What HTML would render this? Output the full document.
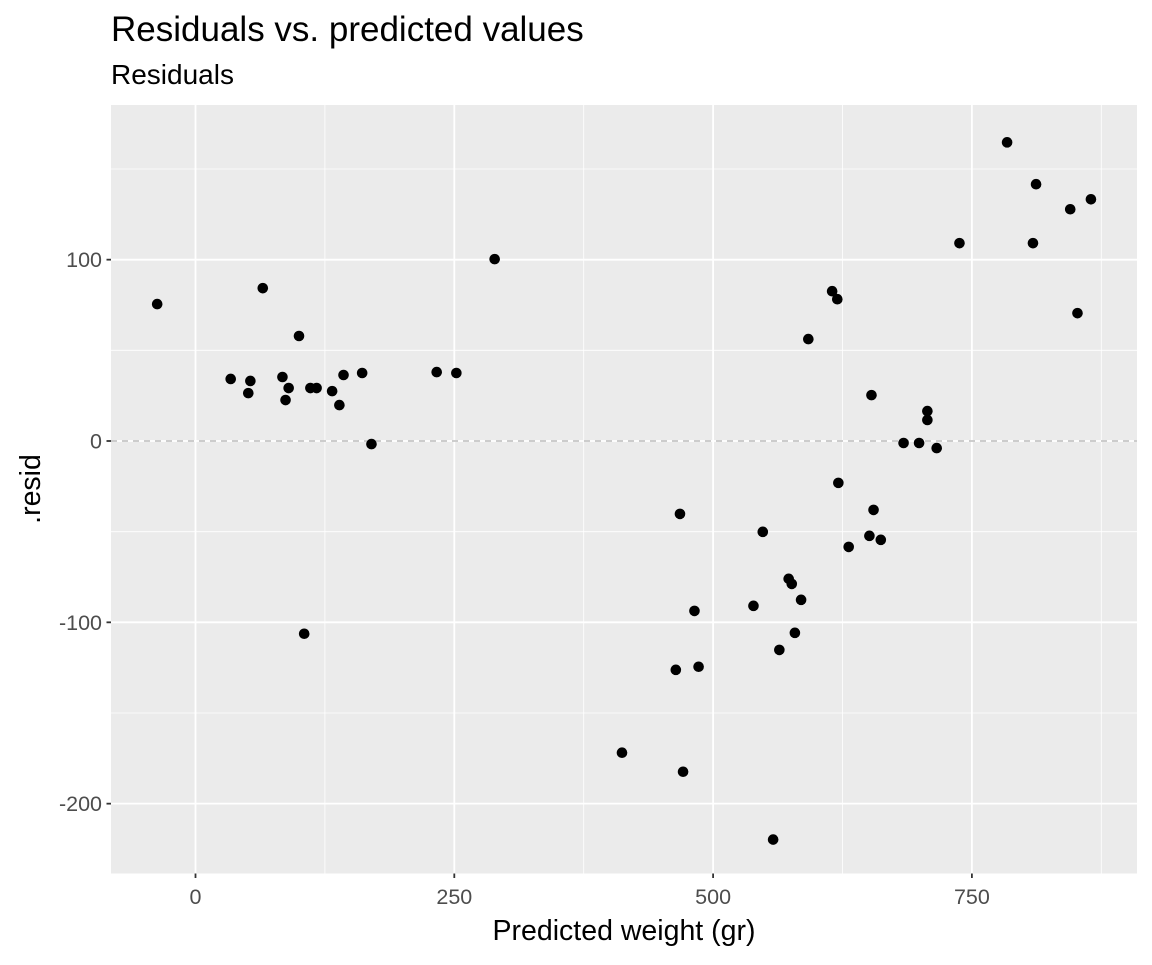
<!DOCTYPE html>
<html><head><meta charset="utf-8"><style>
body{margin:0;background:#fff;}
svg text{font-family:"Liberation Sans",sans-serif;}
</style></head><body>
<svg id="chart" width="1152" height="960" xmlns="http://www.w3.org/2000/svg">
<text x="111" y="41" font-size="35" fill="#000">Residuals vs. predicted values</text>
<text x="111" y="84" font-size="28" fill="#000">Residuals</text>
<rect x="111" y="105" width="1026" height="768.5" fill="#ebebeb"/>
<g id="grid"></g>
<line x1="111" x2="1137" id="zero" stroke="#bdbdbd" stroke-width="1.6" stroke-dasharray="6,5"/>
<g id="ticks"></g>
<g id="points"></g>
<text x="624" y="940" font-size="28.5" text-anchor="middle" fill="#000">Predicted weight (gr)</text>
<text transform="translate(40,489) rotate(-90)" font-size="28.5" text-anchor="middle" fill="#000">.resid</text>
</svg>
<script>
const xTicks=[0,250,500,750];
const yTicks=[100,0,-100,-200];
const xMinor=[125,375,625,875];
const yMinor=[150,50,-50,-150];
const predicted=[-37,34,65,51,53,84,87,90,100,105,111,117,132,139,143,161,170,233,252,289,412,464,468,471,482,486,539,548,558,564,573,576,579,585,592,615,620,621,631,651,653,655,662,684,699,707,707,716,738,784,809,812,845,852,865];
const resid=[75.5,34.2,84.3,26.4,33.1,35.3,22.6,29.2,57.9,-106.3,29.2,29.2,27.5,19.8,36.4,37.5,-1.7,38,37.5,100.3,-171.9,-126.2,-40.2,-182.4,-93.7,-124.5,-90.9,-50.1,-219.8,-115.2,-76,-78.8,-105.8,-87.6,56.2,82.6,78.2,-23.1,-58.4,-52.3,25.3,-38,-54.5,-1.1,-1.1,16.5,11.6,-3.9,109.1,164.7,109.1,141.6,127.8,70.5,133.3];
const X=v=>195.5+v*(454.3-195.5)/250;
const Y=v=>441-v*1.8133;
const NS='http://www.w3.org/2000/svg';
function mk(t,a,p){const e=document.createElementNS(NS,t);for(const k in a)e.setAttribute(k,a[k]);p.appendChild(e);return e;}
const g=document.getElementById('grid'),tk=document.getElementById('ticks'),pts=document.getElementById('points');
xMinor.forEach(v=>{const e=mk('line',{x1:X(v),x2:X(v),y1:105,y2:873.5,stroke:'#fff','stroke-width':0.8},g);

});
yMinor.forEach(v=>{const e=mk('line',{x1:111,x2:1137,y1:Y(v),y2:Y(v),stroke:'#fff','stroke-width':0.8},g);

});
xTicks.forEach(v=>{const e=mk('line',{x1:X(v),x2:X(v),y1:105,y2:873.5,stroke:'#fff','stroke-width':1.8},g);


const t=mk('line',{x1:X(v),x2:X(v),y1:873.5,y2:878,stroke:'#333','stroke-width':1.8},tk);


const l=mk('text',{x:X(v),y:904,'font-size':21.5,'text-anchor':'middle',fill:'#4d4d4d'},tk);l.textContent=v;

});
yTicks.forEach(v=>{const e=mk('line',{x1:111,x2:1137,y1:Y(v),y2:Y(v),stroke:'#fff','stroke-width':1.8},g);


const t=mk('line',{x1:106.5,x2:111,y1:Y(v),y2:Y(v),stroke:'#333','stroke-width':1.8},tk);


const l=mk('text',{x:102,y:Y(v)+7.5,'font-size':21.5,'text-anchor':'end',fill:'#4d4d4d'},tk);l.textContent=v;

});
const z=document.getElementById('zero');z.setAttribute('y1',Y(0));z.setAttribute('y2',Y(0));
predicted.forEach((v,i)=>{const c=mk('circle',{cx:X(v),cy:Y(resid[i]),r:5.3,fill:'#000'},pts);

});
</script>
</body></html>
